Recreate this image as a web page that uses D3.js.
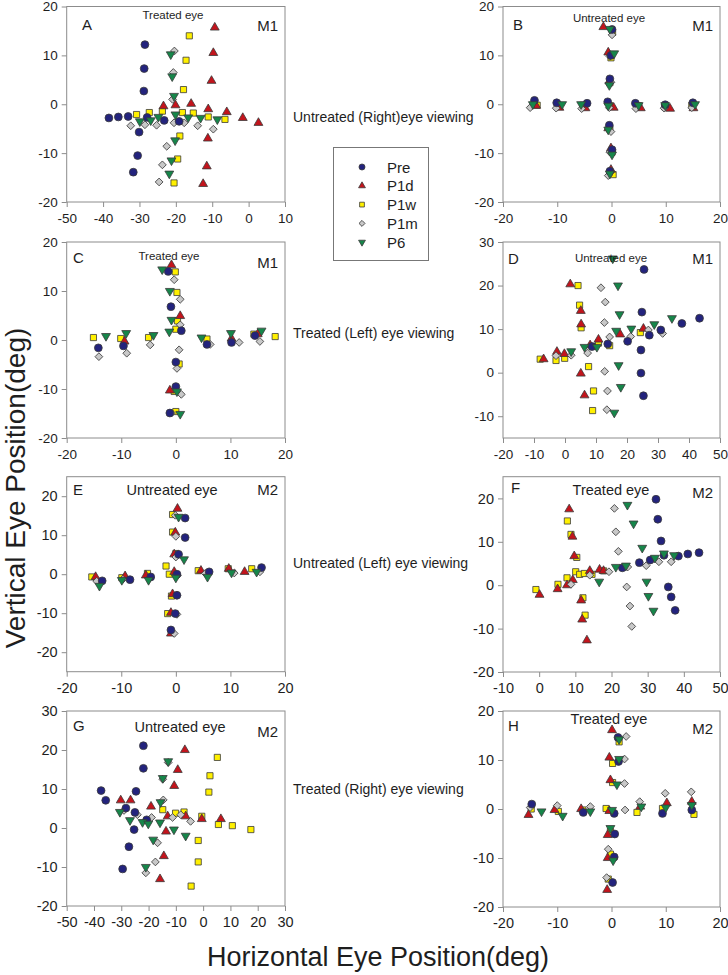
<!DOCTYPE html>
<html>
<head>
<meta charset="utf-8">
<script src="https://cdn.jsdelivr.net/npm/d3@7"></script>
<style>
  body { margin: 0; background: #fff; }
  svg text { font-family: "Liberation Sans", Arial, sans-serif; fill: #1e1e1e; }
</style>
</head>
<body>
<svg id="chart" width="728" height="975"></svg>
<script>
const seriesNames = ["Pre", "P1d", "P1w", "P1m", "P6"];

// A : M1, treated eye, untreated (right) eye viewing
const aPre = [[-28.5,12.2],[-28.7,7.3],[-28.8,2.7],[-38.4,-2.8],[-35.8,-2.6],[-33.1,-2.5],[-27.9,-2.7],[-23.2,-3.3],[-19.1,-3.5],[-30.1,-5.7],[-30.5,-10.5],[-31.7,-13.9]];
const aP1d = [[-9.3,15.7],[-9.7,10.5],[-10.2,4.8],[-15.8,0.1],[-20.1,-0.2],[-23.4,-0.4],[-11.1,-1.0],[-6.0,-1.6],[-1.6,-2.8],[2.7,-3.8],[-11.2,-7.0],[-11.5,-12.7],[-12.5,-16.3]];
const aP1w = [[-16.3,14.0],[-17.2,9.0],[-17.9,3.0],[-30.8,-2.1],[-27.3,-1.7],[-23.7,-1.4],[-18.2,-1.7],[-15.2,-1.8],[-11.1,-2.6],[-6.5,-3.1],[-18.9,-6.5],[-19.5,-11.2],[-20.5,-16.1]];
const aP1m = [[-20.4,10.9],[-20.7,6.5],[-20.9,1.0],[-32.4,-4.4],[-28.5,-4.2],[-25.3,-4.3],[-20.5,-3.8],[-17.7,-3.8],[-14.0,-4.4],[-9.7,-5.1],[-22.5,-8.6],[-23.7,-12.4],[-24.6,-15.9]];
const aP6 = [[-21.4,10.2],[-21.0,5.7],[-20.5,1.7],[-29.9,-3.5],[-26.9,-3.3],[-24.8,-2.6],[-20.1,-2.1],[-16.6,-2.7],[-13.2,-2.8],[-8.6,-3.1],[-20.2,-7.4],[-21.2,-11.5],[-21.8,-14.2]];

// B : M1, untreated eye
const bPre = [[-14.2,0.8],[-10.1,0.3],[-4.5,0.2],[-0.7,0.5],[4.4,0.2],[9.9,-0.1],[15.0,0.3],[0.1,15.3],[-0.1,10.0],[-0.3,5.2],[-0.4,-4.3],[0.1,-9.3],[-0.3,-13.7]];
const bP1d = [[-13.9,-0.3],[-9.6,-0.7],[-4.8,-0.8],[0.4,-0.7],[5.4,-0.8],[10.8,-0.9],[15.1,-0.8],[-1.5,15.8],[-0.6,10.6],[-0.4,4.7],[-0.6,-4.9],[-0.1,-9.0],[-0.1,-13.4]];
const bP1w = [[-13.7,-0.2],[-9.8,-0.2],[-5.3,-0.2],[-0.3,-0.3],[5.0,-0.3],[9.8,-0.5],[14.8,-0.2],[0.2,14.7],[-0.1,9.5],[-0.3,4.4],[-0.3,-5.1],[0.1,-9.8],[0.3,-14.4]];
const bP1m = [[-15.0,-0.7],[-10.2,-0.8],[-5.5,-0.9],[-0.4,-0.7],[4.5,-0.9],[9.7,-0.8],[14.8,-0.7],[0.1,14.2],[-0.3,9.8],[-0.1,4.5],[-0.1,-5.6],[-0.3,-9.8],[-0.6,-14.6]];
const bP6 = [[-14.5,0],[-9.1,0],[-5.6,0],[-0.6,-0.3],[5.0,-0.2],[9.9,-0.2],[15.4,0],[0.5,10.4],[-0.3,15.4],[-0.4,3.9],[-0.6,-5.2],[0.1,-10.3],[-0.3,-14.2]];

// C : M1, treated eye, treated (left) eye viewing
const cPre = [[-14.2,-1.6],[-9.6,-1.2],[5.7,-0.9],[10.2,-0.5],[14.5,0.9],[-1.4,14.0],[-0.9,6.8],[1.0,1.9],[0.0,-4.5],[0.0,-9.5],[-1.1,-14.9]];
const cP1d = [[-9.4,-0.3],[10.2,0.3],[15.0,1.2],[-0.8,15.3],[0.8,4.9],[-1.1,-10.3]];
const cP1w = [[-15.1,0.5],[-10.1,0.3],[-5.0,0.5],[5.7,0.2],[14.3,1.2],[18.2,0.7],[-0.1,13.9],[0.2,9.7],[0.3,3.9],[0.0,2.2],[0.6,-4.9],[-0.3,-10.5],[0.0,-14.6]];
const cP1m = [[-14.1,-3.4],[-9.0,-2.7],[-4.7,-1.0],[6.3,-0.9],[11.6,-0.5],[15.4,-0.3],[-0.3,12.3],[0.8,8.3],[0.8,3.1],[0.6,-2.0],[0.2,-5.8],[1.0,-11.1],[-0.8,-14.9]];
const cP6 = [[-12.8,0.8],[-9.1,1.4],[-4.1,1.0],[4.7,0.5],[10.1,1.4],[15.7,1.9],[-2.5,14.4],[-1.1,10.0],[-0.8,4.1],[-1.2,1.7],[0.2,-10.5],[0.8,-15.1]];

// D : M1, untreated eye
const dPre = [[25.5,23.7],[24.8,13.9],[24.5,5.2],[24.5,-0.1],[25.3,-5.3],[20.2,7.2],[27.2,8.6],[30.9,9.8],[37.7,11.3],[43.4,12.5],[8.7,6.0],[13.8,6.6]];
const dP1d = [[1.7,20.3],[5.1,14.2],[5.2,11.1],[-6.9,3.1],[-2.6,4.8],[-0.2,4.3],[8.1,6.3],[10.8,7.6],[17.8,8.8],[25.3,10.1],[5.1,-0.2],[6.3,-5.2]];
const dP1w = [[4.2,20.0],[4.7,15.5],[5.2,10.3],[-8.0,3.1],[-2.9,2.8],[-0.1,3.3],[7.6,1.4],[9.0,6.0],[10.8,6.8],[14.4,6.2],[24.3,9.2],[9.2,-4.2],[8.9,-8.7]];
const dP1m = [[11.6,19.5],[13.0,16.2],[12.7,11.5],[-2.9,3.9],[2.0,4.0],[7.3,4.5],[14.4,8.2],[21.2,8.3],[26.9,9.8],[31.5,9.0],[12.8,0.3],[13.7,-4.2],[13.5,-8.5]];
const dP6 = [[15.4,26.2],[17.1,20.0],[17.6,13.4],[2.0,4.9],[6.3,5.9],[10.3,5.9],[16.5,9.6],[21.4,10.1],[28.8,11.1],[34.5,12.5],[17.3,1.7],[18.0,-3.3],[15.9,-9.2]];

// E : M2, untreated eye, untreated (left) eye viewing
const ePre = [[-13.5,-1.7],[-8.4,-1.4],[-4.6,-0.7],[0.2,0],[6.1,0.6],[15.7,1.7],[1.7,14.4],[1.7,9.4],[0.5,5.1],[0.2,-5.4],[-0.1,-10.1],[-0.9,-14.3]];
const eP1d = [[-14.7,-0.7],[-9.3,-0.5],[-5.5,-0.3],[-0.3,0.6],[4.6,0.9],[9.7,1.4],[12.6,0.6],[0.3,16.8],[-0.1,10.7],[-0.3,5.1],[-0.6,-5.1],[-0.9,-9.9],[-0.9,-15.2]];
const eP1w = [[-15.4,-0.7],[-9.9,-0.9],[-5.2,0.2],[-1.8,2.1],[-1.2,0],[4.1,0.9],[9.6,1.4],[13.9,1.4],[-0.6,15.3],[-0.6,10.8],[0.0,5.3],[-0.8,-5.6],[-1.5,-10.1]];
const eP1m = [[-14.5,-1.8],[-9.7,-1.3],[-4.7,-0.9],[0.3,-0.3],[5.4,0.2],[10.7,0.3],[15.4,0.6],[-0.1,15.1],[0.0,9.7],[0.0,4.4],[0.2,-5.4],[0.2,-10.3],[-0.3,-15.2]];
const eP6 = [[-14.0,-3.0],[-9.9,-1.5],[-5.0,-1.5],[0.0,-0.9],[5.8,-0.7],[10.2,0.4],[14.8,0.6],[0.5,14.7],[1.5,3.8]];

// F : M2, treated eye
const fPre = [[32.3,19.8],[32.8,15.2],[33.7,10.2],[34.5,6.9],[38.5,6.7],[41.1,7.2],[44.2,7.5],[30.7,5.8],[27.7,5.2],[23.0,4.0],[35.7,-0.4],[36.5,-2.7],[37.6,-5.8]];
const fP1d = [[8.3,17.5],[9.2,11.2],[9.7,6.7],[14.0,3.3],[16.7,3.6],[17.8,3.3],[9.3,1.2],[7.7,0],[5.1,-0.9],[0.1,-2.2],[11.6,-3.5],[11.9,-7.9],[13.2,-12.7]];
const fP1w = [[7.8,14.8],[8.8,11.7],[10.4,6.4],[10.1,3.1],[11.2,2.5],[12.5,2.7],[14.6,2.5],[17.8,3.3],[7.7,1.7],[5.2,0.2],[-0.9,-1.0],[12.1,-2.9],[12.7,-6.9]];
const fP1m = [[20.8,17.7],[21.2,12.3],[21.9,7.8],[14.0,2.3],[19.3,3.1],[24.5,4.2],[29.6,4.5],[33.1,5.4],[36.5,5.4],[8.8,0.2],[24.2,-0.4],[25.1,-4.8],[25.6,-9.5]];
const fP6 = [[24.4,18.5],[26.1,14.2],[28.5,8.6],[21.2,4.2],[24.0,4.5],[32.0,6.3],[34.5,7.3],[37.3,6.9],[16.6,0.8],[29.7,0.8],[30.2,-2.5],[31.6,-5.9]];

// G : M2, untreated eye, treated (right) eye viewing
const gPre = [[-21.9,21.1],[-21.9,15.3],[-37.4,9.6],[-35.7,7.1],[-24.6,9.4],[-28.3,5.1],[-25.0,4.0],[-20.7,2.1],[-25.3,-0.4],[-27.2,-4.8],[-29.5,-10.5]];
const gP1d = [[-6.7,20.0],[-9.3,14.9],[-10.6,10.8],[-19.1,5.5],[-30.2,7.1],[-26.6,7.1],[-13.0,3.0],[-6.4,3.0],[-0.5,2.3],[6.5,2.3],[-13.6,-0.9],[-14.4,-7.2],[-15.8,-13.1]];
const gP1w = [[5.2,18.1],[2.5,13.4],[2.1,9.2],[-14.8,4.7],[-10.1,3.8],[-7.0,4.1],[-0.5,3.0],[5.6,0.9],[10.7,0.6],[17.5,-0.4],[-1.8,-3.2],[-1.8,-8.7],[-4.4,-14.9]];
const gP1m = [[-12.8,16.8],[-14.8,12.5],[-14.6,7.2],[-29.0,4.5],[-24.1,3.4],[-18.9,2.7],[-11.2,2.7],[-8.2,3.4],[-4.6,1.7],[-16.7,-3.8],[-17.5,-8.7],[-21.0,-11.5]];
const gP6 = [[-12.8,17.1],[-14.8,12.8],[-15.6,6.6],[-30.5,4.1],[-26.8,2.0],[-22.2,1.5],[-20.1,1.1],[-15.8,1.4],[-10.7,-0.4],[-6.4,-2.0],[-18.3,-3.0],[-21.0,-10.0]];

// H : M2, treated eye
const hPre = [[-14.7,1.0],[-5.2,-0.7],[0.5,-0.9],[9.4,-0.9],[14.8,-0.2],[1.2,14.6],[1.3,9.7],[0.6,-5.1],[0.5,-9.8],[0.2,-15.0]];
const hP1d = [[-15.3,-1.2],[-10.5,-0.2],[-5.6,0],[-0.4,-0.4],[5.3,0.5],[10.2,1.2],[14.8,1.5],[0.1,16.1],[-0.4,10.5],[-0.2,5.9],[-0.7,-5.3],[-0.7,-10.0],[-0.8,-16.5]];
const hP1w = [[-14.8,0],[-9.8,-0.5],[-5.3,-0.2],[-1.0,0.1],[4.7,-0.7],[9.4,0.1],[15.2,-1.1],[1.4,13.7],[0.2,9.3],[0.2,5.4],[-0.2,-4.6],[-0.2,-9.2],[-0.6,-14.3]];
const hP1m = [[-15.0,0.3],[-10.0,0.7],[-3.9,0.5],[2.5,-0.2],[5.2,1.5],[9.9,3.2],[14.7,3.5],[2.7,14.8],[2.4,10.2],[2.4,5.2],[-0.6,-8.2],[-0.9,-14.0]];
const hP6 = [[-12.9,-0.5],[-9.0,-1.4],[-3.9,-0.5],[0.1,-0.2],[5.5,0.5],[10.0,0.3],[14.8,0.8],[1.4,14.2],[1.4,10.2],[1.0,5.0],[-0.2,-3.9],[0.3,-10.5]];

// tick labels
const ticks20 = [-20, -10, 0, 10, 20];
const xTicksA = [-50, -40, -30, -20, -10, 0, 10];
const xTicksD = [-20, -10, 0, 10, 20, 30, 40, 50];
const yTicksD = [-10, 0, 10, 20, 30];
const xTicksF = [-10, 0, 10, 20, 30, 40, 50];
const xTicksG = [-50, -40, -30, -20, -10, 0, 10, 20, 30];
const yTicksG = [-20, -10, 0, 10, 20, 30];

const viewingLabels = ["Untreated (Right)eye viewing", "Treated (Left) eye viewing",
  "Untreated (Left) eye viewing", "Treated (Right) eye viewing"];

const svg = d3.select("#chart");

const colors = ["#23237d", "#c3141c", "#fff000", "#c8c8c8", "#16864a"];
const shapes = [d3.symbolCircle, d3.symbolTriangle, d3.symbolSquare, d3.symbolSquare, d3.symbolTriangle];
const turns = [0, 0, 0, 45, 180];
const sizes = [48, 34, 38, 30, 34];
const drawOrder = [2, 1, 3, 0, 4];
const frameColor = "#8c8c8c";

const panels = [
  { L: "A", t: "Treated eye", m: "M1", data: [aPre, aP1d, aP1w, aP1m, aP6], xd: [-50, 10], yd: [-20, 20], xt: xTicksA, yt: ticks20,
    x0: 66.7, x1: 285, y0: 202, y1: 6.5, lx: 82, ly: 30, tx: 173, ty: 19, my: 31, small: true },
  { L: "B", t: "Untreated eye", m: "M1", data: [bPre, bP1d, bP1w, bP1m, bP6], xd: [-20, 20], yd: [-20, 20], xt: ticks20, yt: ticks20,
    x0: 503, x1: 720, y0: 202, y1: 6.5, lx: 513, ly: 30, tx: 609, ty: 22, my: 31, small: true },
  { L: "C", t: "Treated eye", m: "M1", data: [cPre, cP1d, cP1w, cP1m, cP6], xd: [-20, 20], yd: [-20, 20], xt: ticks20, yt: ticks20,
    x0: 66.7, x1: 285, y0: 438, y1: 242, lx: 73, ly: 263, tx: 169, ty: 260, my: 268, small: true },
  { L: "D", t: "Untreated eye", m: "M1", data: [dPre, dP1d, dP1w, dP1m, dP6], xd: [-20, 50], yd: [-15, 30], xt: xTicksD, yt: yTicksD,
    x0: 503, x1: 720, y0: 438, y1: 242, lx: 508, ly: 264, tx: 611, ty: 262, my: 264, small: true },
  { L: "E", t: "Untreated eye", m: "M2", data: [ePre, eP1d, eP1w, eP1m, eP6], xd: [-20, 20], yd: [-25, 25], xt: ticks20, yt: ticks20,
    x0: 66.7, x1: 285, y0: 671.7, y1: 476.7, lx: 73, ly: 495, tx: 172, ty: 495, my: 495, small: false },
  { L: "F", t: "Treated eye", m: "M2", data: [fPre, fP1d, fP1w, fP1m, fP6], xd: [-10, 50], yd: [-20, 25], xt: xTicksF, yt: ticks20,
    x0: 503, x1: 720, y0: 672, y1: 476.7, lx: 511, ly: 493, tx: 611, ty: 495, my: 498, small: false },
  { L: "G", t: "Untreated eye", m: "M2", data: [gPre, gP1d, gP1w, gP1m, gP6], xd: [-50, 30], yd: [-20, 30], xt: xTicksG, yt: yTicksG,
    x0: 66.7, x1: 285, y0: 906, y1: 711, lx: 73, ly: 731, tx: 180, ty: 732, my: 737, small: false },
  { L: "H", t: "Treated eye", m: "M2", data: [hPre, hP1d, hP1w, hP1m, hP6], xd: [-20, 20], yd: [-20, 20], xt: ticks20, yt: ticks20,
    x0: 503, x1: 720, y0: 907, y1: 711, lx: 508, ly: 731, tx: 609, ty: 724, my: 734, small: false }
];

function marker(i, scale) {
  return d3.symbol().type(shapes[i]).size(sizes[i] * (scale || 1))();
}

panels.forEach(p => {
  const x = d3.scaleLinear().domain(p.xd).range([p.x0, p.x1]);
  const y = d3.scaleLinear().domain(p.yd).range([p.y0, p.y1]);
  const g = svg.append("g");
  const tickFont = p.small ? 13.5 : 14.5;

  const xAxis = g.append("g")
    .attr("transform", `translate(0,${p.y0})`)
    .call(d3.axisBottom(x).tickValues(p.xt).tickSize(5).tickPadding(6).tickFormat(d => String(d)));
  const yAxis = g.append("g")
    .attr("transform", `translate(${p.x0},0)`)
    .call(d3.axisLeft(y).tickValues(p.yt).tickSize(5).tickPadding(4).tickFormat(d => String(d)));
  [xAxis, yAxis].forEach(a => {
    a.select(".domain").remove();
    a.selectAll(".tick line").attr("stroke", frameColor);
    a.selectAll(".tick text").attr("font-size", tickFont).attr("fill", "#1e1e1e")
      .style("font-family", "'Liberation Sans', Arial, sans-serif");
  });

  g.append("rect")
    .attr("x", p.x0).attr("y", p.y1)
    .attr("width", p.x1 - p.x0).attr("height", p.y0 - p.y1)
    .attr("fill", "none").attr("stroke", frameColor).attr("stroke-width", 1);

  drawOrder.forEach(i => {
    g.append("g").selectAll("path")
      .data(p.data[i])
      .join("path")
      .attr("d", marker(i))
      .attr("transform", d => `translate(${x(d[0])},${y(d[1])}) rotate(${turns[i]})`)
      .attr("fill", colors[i])
      .attr("stroke", "#3a3a3a")
      .attr("stroke-width", 0.8);
  });

  const labelSize = 15;
  g.append("text").attr("x", p.lx).attr("y", p.ly).attr("font-size", labelSize).text(p.L);
  g.append("text").attr("x", p.x1 - 7).attr("y", p.my).attr("font-size", labelSize)
    .attr("text-anchor", "end").text(p.m);
  g.append("text").attr("x", p.tx).attr("y", p.ty).attr("font-size", p.small ? 11.5 : 14.5)
    .attr("text-anchor", "middle").text(p.t);
});

// side labels for each row
const viewingY = [122, 338, 568, 794];
viewingLabels.forEach((t, i) => {
  svg.append("text").attr("x", 293).attr("y", viewingY[i]).attr("font-size", 14).text(t);
});

// legend
const legend = svg.append("g");
legend.append("rect").attr("x", 333.5).attr("y", 147.5).attr("width", 95).attr("height", 113)
  .attr("fill", "#fff").attr("stroke", "#777").attr("stroke-width", 1);
seriesNames.forEach((name, i) => {
  const yy = 167 + i * 18.8;
  legend.append("path")
    .attr("d", marker(i, 0.6))
    .attr("transform", `translate(362,${yy}) rotate(${turns[i]})`)
    .attr("fill", colors[i]).attr("stroke", "#3a3a3a").attr("stroke-width", 0.8);
  legend.append("text").attr("x", 387).attr("y", yy + 5.5).attr("font-size", 15).text(name);
});

// axis titles
svg.append("text")
  .attr("transform", "translate(25,488) rotate(-90)")
  .attr("text-anchor", "middle").attr("font-size", 28)
  .text("Vertical Eye Position(deg)");
svg.append("text")
  .attr("x", 378).attr("y", 966)
  .attr("text-anchor", "middle").attr("font-size", 27)
  .text("Horizontal Eye Position(deg)");
</script>
</body>
</html>
